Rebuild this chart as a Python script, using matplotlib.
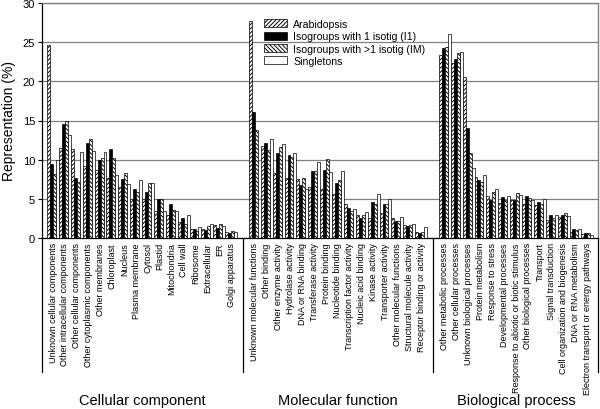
"""Representation of GO categories: Arabidopsis vs isogroups and singletons."""

import matplotlib

matplotlib.use("Agg")
import matplotlib.pyplot as plt
import numpy as np

plt.rcParams["font.family"] = ["Liberation Sans", "DejaVu Sans"]
plt.rcParams["hatch.linewidth"] = 0.7

cellular = [
    "Unknown cellular components", "Other intracellular components", "Other cellular components",
    "Other cytoplasmic components", "Other membranes", "Chloroplast", "Nucleus", "Plasma membrane",
    "Cytosol", "Plastid", "Mitochondria", "Cell wall", "Ribosome", "Extracellular", "ER",
    "Golgi apparatus",
]
molecular = [
    "Unknown molecular functions", "Other binding", "Other enzyme activity", "Hydrolase activity",
    "DNA or RNA binding", "Transferase activity", "Protein binding", "Nucleotide binding",
    "Transcription factor activity", "Nucleic acid binding", "Kinase activity", "Transporter activity",
    "Other molecular functions", "Structural molecule activity", "Receptor binding or activity",
]
biological = [
    "Other metabolic processes", "Other cellular processes", "Unknown biological processes",
    "Protein metabolism", "Response to stress", "Developmental processes",
    "Response to abiotic or biotic stimulus", "Other biological processes", "Transport",
    "Signal transduction", "Cell organization and biogenesis", "DNA or RNA metabolism",
    "Electron transport or energy pathways",
]
group_names = ["Cellular component", "Molecular function", "Biological process"]
series_names = ["Arabidopsis", "Isogroups with 1 isotig (I1)", "Isogroups with >1 isotig (IM)", "Singletons"]

arabidopsis = [
    24.6, 11.5, 11.4, 9.2, 8.7, 7.6, 6.5, 5.0, 5.0, 3.5, 2.9, 2.0, 1.1, 1.2, 1.6, 0.8,
    27.7, 11.7, 8.3, 7.6, 7.5, 6.5, 6.3, 5.6, 4.3, 3.0, 2.6, 3.2, 2.6, 1.6, 0.8,
    23.3, 22.3, 20.5, 7.8, 5.4, 4.5, 4.8, 4.3, 4.2, 2.3, 2.7, 0.8, 0.5,
]
isotig_1 = [
    9.5, 14.5, 7.7, 12.1, 10.0, 11.3, 7.5, 6.2, 5.9, 5.0, 4.4, 2.5, 1.2, 1.0, 1.3, 0.6,
    16.1, 12.1, 10.8, 10.6, 6.8, 8.6, 8.7, 7.0, 3.8, 2.6, 4.6, 4.4, 2.2, 1.5, 0.7,
    24.3, 22.9, 14.1, 7.4, 4.9, 5.2, 4.8, 5.3, 4.6, 2.9, 3.0, 1.2, 0.6,
]
isotig_m = [
    8.2, 15.0, 7.1, 12.7, 10.2, 10.2, 8.3, 5.9, 7.0, 5.0, 3.6, 1.8, 0.9, 1.5, 1.8, 0.9,
    13.8, 11.2, 11.6, 10.3, 7.6, 8.6, 10.1, 7.4, 3.5, 2.9, 4.4, 4.3, 2.2, 1.6, 0.8,
    24.4, 23.6, 10.9, 7.2, 5.9, 4.9, 5.8, 5.1, 4.4, 2.6, 3.2, 1.0, 0.6,
]
singletons = [
    10.0, 13.2, 11.0, 11.1, 11.0, 8.0, 6.9, 7.4, 7.0, 3.5, 3.5, 2.9, 1.4, 1.8, 1.5, 0.8,
    0.0, 12.6, 12.0, 10.9, 6.2, 9.7, 8.4, 8.6, 3.7, 3.3, 5.6, 5.0, 2.7, 1.8, 1.4,
    26.0, 23.8, 8.9, 8.0, 6.2, 5.3, 5.5, 4.9, 5.0, 3.0, 2.8, 1.2, 0.4,
]


def main() -> None:
    groups = [cellular, molecular, biological]
    pos: list[int] = []
    centers: list[float] = []
    seps: list[float] = []
    start = 0
    for cats in groups:
        pos.extend(range(start, start + len(cats)))
        centers.append(start + (len(cats) - 1) / 2)
        start += len(cats) + 1
        seps.append(start - 1)
    pos_arr = np.array(pos, dtype=float)
    labels = cellular + molecular + biological

    fig = plt.figure(figsize=(6.0, 4.1), dpi=100)
    ax = fig.add_axes([42 / 600, 1 - 239 / 410, 556 / 600, 235 / 410])

    styles = [
        dict(facecolor="white", hatch="////////"),
        dict(facecolor="black", hatch=None),
        dict(facecolor="white", hatch="\\\\\\\\\\\\\\\\"),
        dict(facecolor="white", hatch=None),
    ]
    width = 0.25
    for i, (name, vals, st) in enumerate(zip(series_names, [arabidopsis, isotig_1, isotig_m, singletons], styles)):
        ax.bar(pos_arr + (i - 1.5) * width, vals, width=width, edgecolor="black", linewidth=0.5,
               label=name, zorder=3, **st)

    left, right = -0.93, 45.9
    ax.set_xlim(left, right)
    ax.set_ylim(0, 30)
    ax.set_yticks(range(0, 31, 5))
    ax.yaxis.grid(True, color="#808080", linewidth=0.9, zorder=0)
    ax.tick_params(axis="y", labelsize=8, length=3, width=0.8, pad=2)
    ax.set_ylabel("Representation (%)", fontsize=10, labelpad=5)

    ax.set_xticks(pos_arr)
    ax.set_xticklabels(labels, rotation=90, fontsize=6.5)
    ax.tick_params(axis="x", length=0, pad=3)

    for side in ("top", "right"):
        ax.spines[side].set_color("#808080")
        ax.spines[side].set_linewidth(1.0)
    for side in ("left", "bottom"):
        ax.spines[side].set_color("black")
        ax.spines[side].set_linewidth(0.9)

    tr = ax.get_xaxis_transform()
    for x in [left, seps[0], seps[1], right]:
        ax.plot([x, x], [0, -0.57], transform=tr, color="black", linewidth=0.9, clip_on=False)
    for cx, name in zip(centers, group_names):
        ax.text(cx, -0.69, name, transform=tr, ha="center", va="center", fontsize=10.5)

    ax.legend(loc="upper left", bbox_to_anchor=(264 / 600, 1 - 20 / 410), bbox_transform=fig.transFigure,
              frameon=False, fontsize=7.6, handlelength=2.2, handleheight=0.75, handletextpad=0.55,
              labelspacing=0.22, borderpad=0, borderaxespad=0)

    fig.savefig("out.png")
    plt.close(fig)


if __name__ == "__main__":
    main()
